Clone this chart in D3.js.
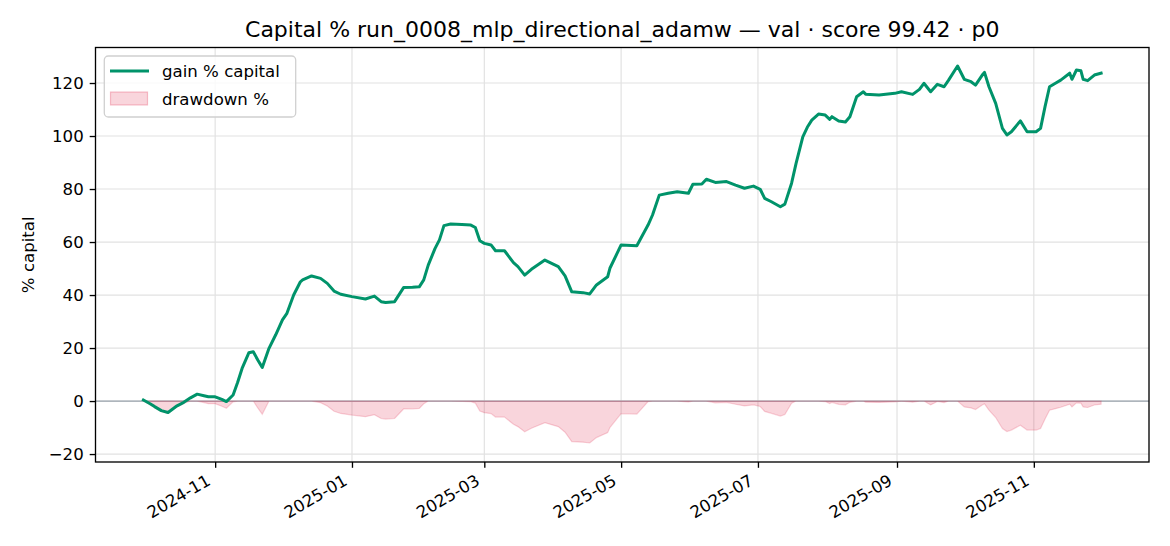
<!DOCTYPE html>
<html><head><meta charset="utf-8">
<script src="https://cdn.jsdelivr.net/npm/d3@7"></script>
<style>body{margin:0;background:#fff} svg{font-family:"DejaVu Sans",sans-serif;display:block}</style>
</head><body><svg id="c" width="1170" height="546"></svg>
<script>
const dates = ["2024-09-30","2024-10-03","2024-10-05","2024-10-08","2024-10-11","2024-10-15","2024-10-18","2024-10-21","2024-10-24","2024-10-27","2024-10-29","2024-11-01","2024-11-04","2024-11-06","2024-11-09","2024-11-11","2024-11-13","2024-11-16","2024-11-18","2024-11-20","2024-11-22","2024-11-25","2024-11-28","2024-12-01","2024-12-03","2024-12-06","2024-12-09","2024-12-10","2024-12-14","2024-12-18","2024-12-21","2024-12-24","2024-12-27","2025-01-01","2025-01-07","2025-01-11","2025-01-14","2025-01-16","2025-01-20","2025-01-24","2025-01-28","2025-01-31","2025-02-02","2025-02-04","2025-02-07","2025-02-09","2025-02-11","2025-02-14","2025-02-19","2025-02-23","2025-02-25","2025-02-27","2025-03-01","2025-03-04","2025-03-06","2025-03-10","2025-03-14","2025-03-16","2025-03-19","2025-03-22","2025-03-28","2025-04-03","2025-04-06","2025-04-09","2025-04-14","2025-04-17","2025-04-20","2025-04-25","2025-04-26","2025-05-01","2025-05-08","2025-05-13","2025-05-15","2025-05-18","2025-05-22","2025-05-26","2025-05-31","2025-06-02","2025-06-06","2025-06-08","2025-06-12","2025-06-17","2025-06-21","2025-06-25","2025-06-29","2025-07-02","2025-07-04","2025-07-07","2025-07-11","2025-07-13","2025-07-16","2025-07-18","2025-07-21","2025-07-23","2025-07-25","2025-07-28","2025-07-31","2025-08-02","2025-08-03","2025-08-06","2025-08-09","2025-08-11","2025-08-14","2025-08-17","2025-08-18","2025-08-24","2025-08-31","2025-09-03","2025-09-08","2025-09-11","2025-09-13","2025-09-16","2025-09-19","2025-09-22","2025-09-24","2025-09-28","2025-10-01","2025-10-04","2025-10-06","2025-10-09","2025-10-10","2025-10-12","2025-10-15","2025-10-18","2025-10-20","2025-10-22","2025-10-26","2025-10-29","2025-11-02","2025-11-04","2025-11-06","2025-11-08","2025-11-11","2025-11-13","2025-11-17","2025-11-18","2025-11-20","2025-11-22","2025-11-23","2025-11-25","2025-11-28","2025-12-01"];
const gainPct = [0.4,-1.0,-2.1,-3.6,-4.3,-1.8,-0.5,1.2,2.6,2.0,1.6,1.6,0.6,-0.2,2.3,7.0,12.3,18.2,18.6,15.5,12.7,19.9,25.0,30.6,33.1,40.0,45.0,45.7,47.2,46.3,44.4,41.5,40.3,39.4,38.5,39.6,37.5,37.2,37.5,42.8,42.9,43.1,45.7,51.3,57.5,60.8,66.2,66.8,66.6,66.4,65.5,60.5,59.5,58.9,56.7,56.7,52.2,50.7,47.5,49.7,53.2,50.7,47.2,41.2,40.9,40.4,43.8,46.9,50.1,58.9,58.6,66.4,70.2,77.7,78.4,79.0,78.4,81.8,81.9,83.7,82.5,82.8,81.5,80.3,81.1,79.9,76.5,75.2,73.3,74.3,82.2,89.7,99.7,103.3,106.0,108.3,107.9,106.3,107.3,105.7,105.3,107.3,114.8,116.7,115.8,115.5,116.1,116.7,115.7,117.6,119.9,116.7,119.5,118.6,121.1,126.4,121.4,120.5,119.2,123.0,124.0,118.6,112.3,102.9,100.4,101.6,105.7,101.6,101.6,102.9,111.1,118.6,120.1,121.1,123.7,121.4,124.9,124.6,121.4,120.9,123.0,123.7];
const xTickLabels = ["2024-11","2025-01","2025-03","2025-05","2025-07","2025-09","2025-11"];
const yTicks = [-20,0,20,40,60,80,100,120];
const yDomain = [-23, 133.4];
const titleText = "Capital % run_0008_mlp_directional_adamw — val · score 99.42 · p0";
const yLabel = "% capital";
const seriesNames = ["gain % capital","drawdown %"];

const parse = d3.timeParse("%Y-%m-%d");
const data = dates.map((d,i)=>({t:parse(d), g:gainPct[i]}));
// drawdown relative to running peak of capital
let peak = -Infinity;
data.forEach(d=>{ const eq = 1 + d.g/100; peak = Math.max(peak, eq); d.dd = (eq/peak - 1)*100; });

const L=95.5, R=1149, T=47.5, B=462;
const ext = d3.extent(data, d=>d.t);
const span = ext[1]-ext[0];
const x = d3.scaleTime().domain([new Date(+ext[0]-0.05*span), new Date(+ext[1]+0.05*span)]).range([L,R]);
const y = d3.scaleLinear().domain(yDomain).range([B,T]);
const svg = d3.select("#c");
const GREEN = "#00936a";

// grid
const xTicks = xTickLabels.map(s=>parse(s+"-01"));
svg.append("g").selectAll("line").data(xTicks).join("line")
  .attr("x1",d=>x(d)).attr("x2",d=>x(d)).attr("y1",T).attr("y2",B)
  .attr("stroke","#e2e2e2").attr("stroke-width",1.2);
svg.append("g").selectAll("line").data(yTicks).join("line")
  .attr("x1",L).attr("x2",R).attr("y1",d=>y(d)).attr("y2",d=>y(d))
  .attr("stroke","#e2e2e2").attr("stroke-width",1.2);

// zero line
svg.append("line").attr("x1",L).attr("x2",R).attr("y1",y(0)).attr("y2",y(0))
  .attr("stroke","#9aa3ad").attr("stroke-width",1.2);

// drawdown area
svg.append("path").datum(data)
  .attr("d", d3.area().x(d=>x(d.t)).y0(y(0)).y1(d=>y(d.dd)))
  .attr("fill","rgba(220,20,60,0.18)").attr("stroke","rgba(220,20,60,0.18)").attr("stroke-width",1.2);

// gain line
svg.append("path").datum(data)
  .attr("d", d3.line().x(d=>x(d.t)).y(d=>y(d.g)))
  .attr("fill","none").attr("stroke",GREEN).attr("stroke-width",3).attr("stroke-linejoin","round").attr("stroke-linecap","square");

// axes frame
svg.append("rect").attr("x",L).attr("y",T).attr("width",R-L).attr("height",B-T)
  .attr("fill","none").attr("stroke","#000").attr("stroke-width",1.33);

// y axis
const yAxis = d3.axisLeft(y).tickValues(yTicks).tickSize(5.8).tickPadding(6)
  .tickFormat(d=> d<0 ? "\u2212"+Math.abs(d) : String(d));
const gy = svg.append("g").attr("transform",`translate(${L},0)`).call(yAxis);
gy.select(".domain").remove();
gy.selectAll(".tick line").attr("stroke","#000").attr("stroke-width",1.33);
gy.selectAll(".tick text").attr("font-size","16.6px").attr("fill","#000").attr("font-family","DejaVu Sans");

// x axis
const xAxis = d3.axisBottom(x).tickValues(xTicks).tickSize(5.8).tickFormat((d,i)=>xTickLabels[i]);
const gx = svg.append("g").attr("transform",`translate(0,${B})`).call(xAxis);
gx.select(".domain").remove();
gx.selectAll(".tick line").attr("stroke","#000").attr("stroke-width",1.33);
gx.selectAll(".tick text").attr("font-size","16.6px").attr("fill","#000").attr("font-family","DejaVu Sans")
  .attr("text-anchor","end").attr("y",0).attr("dy",0)
  .attr("transform","translate(-4,22) rotate(-30)");

// y label
svg.append("text").attr("transform",`translate(34,${(T+B)/2}) rotate(-90)`)
  .attr("text-anchor","middle").attr("font-size","16.6px").text(yLabel);

// title
svg.append("text").attr("x",(L+R)/2).attr("y",36.5).attr("text-anchor","middle")
  .attr("font-size","22px").text(titleText);

// legend
const lg = svg.append("g");
lg.append("rect").attr("x",104.3).attr("y",56).attr("width",191.4).attr("height",61).attr("rx",4)
  .attr("fill","rgba(255,255,255,0.8)").attr("stroke","#d0d0d0").attr("stroke-width",1.3);
lg.append("line").attr("x1",110).attr("x2",149).attr("y1",71).attr("y2",71)
  .attr("stroke",GREEN).attr("stroke-width",3);
lg.append("rect").attr("x",110.5).attr("y",92).attr("width",37).attr("height",13)
  .attr("fill","rgba(220,20,60,0.18)").attr("stroke","rgba(220,20,60,0.25)").attr("stroke-width",1.2);
lg.append("text").attr("x",162).attr("y",77).attr("font-size","16.6px").text(seriesNames[0]);
lg.append("text").attr("x",162).attr("y",105).attr("font-size","16.6px").text(seriesNames[1]);
</script></body></html>
